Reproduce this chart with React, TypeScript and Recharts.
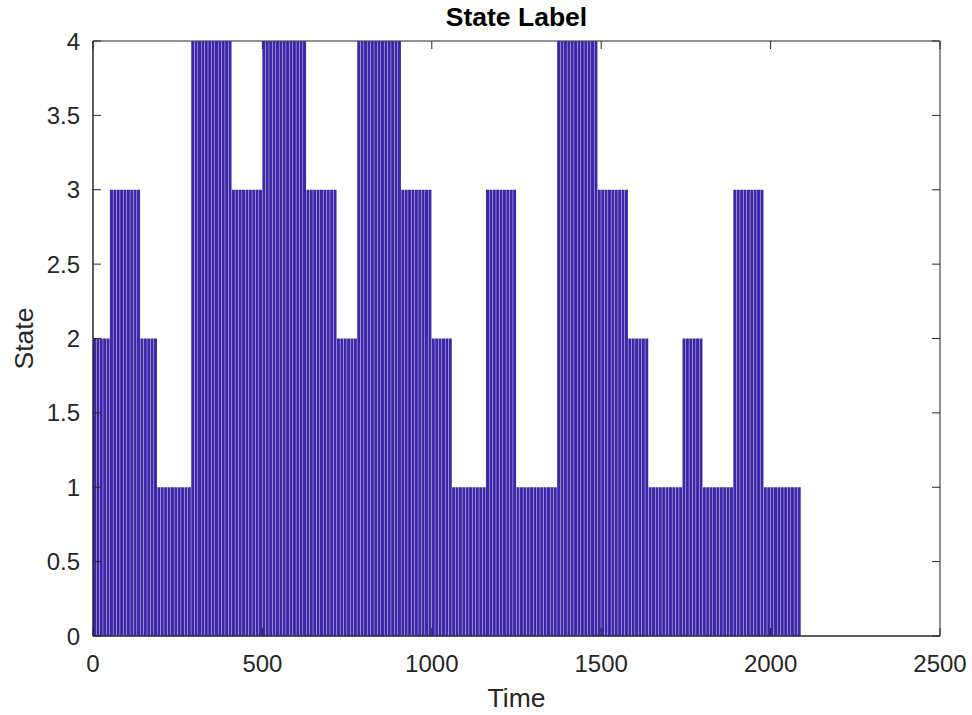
import React from 'react';
import { BarChart, Bar, XAxis, YAxis, ReferenceArea } from 'recharts';

// state segments: each runs up to segEnds[i]
const segEnds = [50, 140, 190, 290, 410, 500, 630, 720, 780, 910, 1000, 1060, 1160, 1250, 1370, 1490, 1580, 1640, 1740, 1800, 1890, 1980, 2090];
const segStates = [2, 3, 2, 1, 4, 3, 4, 3, 2, 4, 3, 2, 1, 3, 1, 4, 3, 2, 1, 2, 1, 3, 1];
const sampleStep = 10;

const xTicks = [0, 500, 1000, 1500, 2000, 2500];
const yTicks = [0, 0.5, 1, 1.5, 2, 2.5, 3, 3.5, 4];

const FONT = '"Liberation Sans", Arial, Helvetica, sans-serif';
const AXIS_COLOR = '#262626';
const BAR_COLOR = '#3E26A8';
const TICK_FONT = 24;
const LABEL_FONT = 26.5;

const W = 972;
const H = 715;
const PLOT_LEFT = 93;
const PLOT_RIGHT = 940;
const PLOT_TOP = 41;
const PLOT_BOTTOM = 636;
const TICK_LEN = 8;

// one bar per sample step, state taken from the segment it falls in
const rows: { t: number; state: number }[] = [];
let start = 0;
segEnds.forEach((end, i) => {
  for (let t = start + sampleStep / 2; t < end; t += sampleStep) {
    rows.push({ t, state: segStates[i] });
  }
  start = end;
});

const XTick = (props: any) => {
  const { x, payload } = props;
  return (
    <g>
      <line x1={x} x2={x} y1={PLOT_BOTTOM} y2={PLOT_BOTTOM - TICK_LEN} stroke={AXIS_COLOR} strokeWidth={1} />
      <line x1={x} x2={x} y1={PLOT_TOP} y2={PLOT_TOP + TICK_LEN} stroke={AXIS_COLOR} strokeWidth={1} />
      <text x={x} y={PLOT_BOTTOM + 36} textAnchor="middle" fontSize={TICK_FONT} fill={AXIS_COLOR} fontFamily={FONT}>
        {payload.value}
      </text>
    </g>
  );
};

const YTick = (props: any) => {
  const { y, payload } = props;
  return (
    <g>
      <line x1={PLOT_LEFT} x2={PLOT_LEFT + TICK_LEN} y1={y} y2={y} stroke={AXIS_COLOR} strokeWidth={1} />
      <line x1={PLOT_RIGHT} x2={PLOT_RIGHT - TICK_LEN} y1={y} y2={y} stroke={AXIS_COLOR} strokeWidth={1} />
      <text x={PLOT_LEFT - 13} y={y + 8.5} textAnchor="end" fontSize={TICK_FONT} fill={AXIS_COLOR} fontFamily={FONT}>
        {payload.value}
      </text>
    </g>
  );
};

export default function App() {
  return (
    <div style={{ position: 'absolute', left: 0, top: 0, width: W, height: H, background: '#fff', fontFamily: FONT }}>
      <div
        style={{
          position: 'absolute',
          left: PLOT_LEFT,
          width: PLOT_RIGHT - PLOT_LEFT,
          top: 2,
          textAlign: 'center',
          fontSize: LABEL_FONT,
          fontWeight: 'bold',
          color: '#000',
          lineHeight: '30px',
        }}
      >
        State Label
      </div>
      <BarChart
        width={W}
        height={H}
        data={rows}
        margin={{ top: PLOT_TOP, right: W - PLOT_RIGHT, left: 0, bottom: 0 }}
        barCategoryGap={0}
        barGap={0}
      >
        <XAxis
          dataKey="t"
          type="number"
          domain={[0, 2500]}
          ticks={xTicks}
          interval={0}
          height={H - PLOT_BOTTOM}
          tickLine={false}
          tick={<XTick />}
          axisLine={{ stroke: AXIS_COLOR }}
          allowDataOverflow
          label={{ value: 'Time', position: 'insideBottom', offset: 8, fontSize: LABEL_FONT, fill: AXIS_COLOR, fontFamily: FONT }}
        />
        <YAxis
          type="number"
          domain={[0, 4]}
          ticks={yTicks}
          interval={0}
          width={PLOT_LEFT}
          tickLine={false}
          tick={<YTick />}
          axisLine={{ stroke: AXIS_COLOR }}
          allowDataOverflow
          label={{
            value: 'State',
            angle: -90,
            position: 'insideLeft',
            offset: 24,
            fontSize: LABEL_FONT,
            fill: AXIS_COLOR,
            fontFamily: FONT,
            style: { textAnchor: 'middle' },
          }}
        />
        <Bar dataKey="state" fill={BAR_COLOR} barSize={3} isAnimationActive={false} />
        <ReferenceArea x1={0} x2={2500} y1={0} y2={4} fill="none" stroke={AXIS_COLOR} strokeWidth={1} ifOverflow="visible" />
      </BarChart>
    </div>
  );
}
